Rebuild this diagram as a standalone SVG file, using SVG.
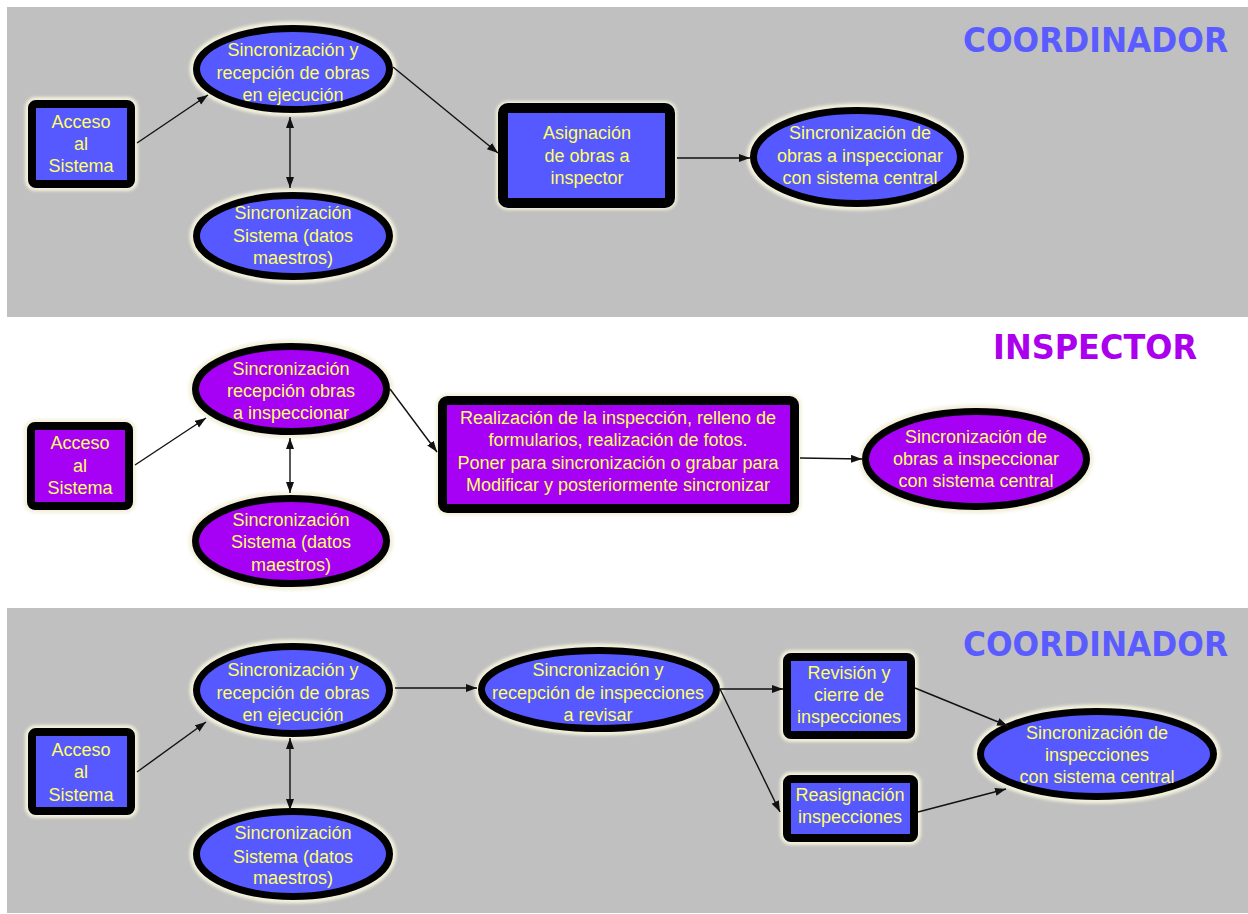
<svg xmlns="http://www.w3.org/2000/svg" width="1248" height="914" viewBox="0 0 1248 914">
<style>
.band{fill:#c0c0c0}
.halo{fill:none;stroke:#f3f1dc;stroke-width:14;filter:url(#blur)}
.rb{fill:#5659ff;stroke:#000;stroke-width:8}
.rp{fill:#a600f5;stroke:#000;stroke-width:8}
.eb{fill:#5659ff;stroke:#000;stroke-width:7}
.ep{fill:#a600f5;stroke:#000;stroke-width:7}
.t{font-family:"Liberation Sans",Arial,sans-serif;font-size:18px;fill:#ffff66;text-anchor:middle}
.title{font-family:"DejaVu Sans",Verdana,sans-serif;font-weight:bold;font-size:33px}
.c{fill:none;stroke:#111;stroke-width:1.4;marker-end:url(#ah)}
.d{fill:none;stroke:#111;stroke-width:1.4;marker-end:url(#ah);marker-start:url(#ah)}
</style>
<defs>
<filter id="blur" x="-20%" y="-20%" width="140%" height="140%"><feGaussianBlur stdDeviation="1.6"/></filter>
<marker id="ah" markerUnits="userSpaceOnUse" markerWidth="12" markerHeight="9" refX="11" refY="4" orient="auto-start-reverse"><path d="M0,0 L11,4 L0,8 z" fill="#111"/></marker>
</defs>
<rect width="1248" height="914" fill="#ffffff"/>
<rect class="band" x="7" y="7" width="1241" height="310"/>
<rect class="band" x="7" y="608" width="1241" height="305"/>

<text class="title" x="963" y="52" fill="#5a5cff" textLength="265" lengthAdjust="spacingAndGlyphs">COORDINADOR</text>
<text class="title" x="993" y="359" fill="#aa00ee" textLength="204" lengthAdjust="spacingAndGlyphs">INSPECTOR</text>
<text class="title" x="963" y="656" fill="#5a5cff" textLength="265" lengthAdjust="spacingAndGlyphs">COORDINADOR</text>

<!-- TOP -->
<g id="t_acceso">
<rect class="halo" x="32" y="104" width="99" height="80" rx="4"/>
<rect class="rb" x="32" y="104" width="99" height="80" rx="4"/>
<text class="t" x="81" y="128">Acceso</text><text class="t" x="81" y="150">al</text><text class="t" x="81" y="172">Sistema</text>
</g>
<g id="t_sync_obras">
<ellipse class="halo" cx="293" cy="69" rx="96.5" ry="40.5"/>
<ellipse class="eb" cx="293" cy="69" rx="96.5" ry="40.5"/>
<text class="t" x="293" y="56">Sincronización y</text><text class="t" x="293" y="78.5">recepción de obras</text><text class="t" x="293" y="101">en ejecución</text>
</g>
<g id="t_sync_maestros">
<ellipse class="halo" cx="293" cy="236" rx="96.5" ry="40.5"/>
<ellipse class="eb" cx="293" cy="236" rx="96.5" ry="40.5"/>
<text class="t" x="293" y="219">Sincronización</text><text class="t" x="293" y="242">Sistema (datos</text><text class="t" x="293" y="264">maestros)</text>
</g>
<g id="t_asignacion">
<rect class="halo" x="503" y="108" width="167" height="95" rx="5"/>
<rect class="rb" x="503" y="108" width="167" height="95" rx="5" style="stroke-width:10"/>
<text class="t" x="587" y="139">Asignación</text><text class="t" x="587" y="162">de obras a</text><text class="t" x="587" y="184">inspector</text>
</g>
<g id="t_sync_central">
<ellipse class="halo" cx="857" cy="157" rx="103.5" ry="46.5"/>
<ellipse class="eb" cx="857" cy="157" rx="103.5" ry="46.5"/>
<text class="t" x="860" y="139">Sincronización de</text><text class="t" x="860" y="162">obras a inspeccionar</text><text class="t" x="860" y="184">con sistema central</text>
</g>

<!-- MIDDLE -->
<g id="m_acceso">
<rect class="halo" x="31" y="426" width="98" height="80" rx="4"/>
<rect class="rp" x="31" y="426" width="98" height="80" rx="4"/>
<text class="t" x="80" y="449">Acceso</text><text class="t" x="80" y="472">al</text><text class="t" x="80" y="494">Sistema</text>
</g>
<g id="m_sync_obras">
<ellipse class="halo" cx="291" cy="389" rx="95.5" ry="42.5"/>
<ellipse class="ep" cx="291" cy="389" rx="95.5" ry="42.5"/>
<text class="t" x="291" y="375">Sincronización</text><text class="t" x="291" y="397">recepción obras</text><text class="t" x="291" y="419">a inspeccionar</text>
</g>
<g id="m_sync_maestros">
<ellipse class="halo" cx="291" cy="541" rx="95.5" ry="42.5"/>
<ellipse class="ep" cx="291" cy="541" rx="95.5" ry="42.5"/>
<text class="t" x="291" y="526">Sincronización</text><text class="t" x="291" y="548">Sistema (datos</text><text class="t" x="291" y="571">maestros)</text>
</g>
<g id="m_inspeccion">
<rect class="halo" x="442.5" y="400.5" width="352" height="108" rx="5"/>
<rect class="rp" x="442.5" y="400.5" width="352" height="108" rx="5" style="stroke-width:9"/>
<text class="t" x="618" y="424">Realización de la inspección, relleno de</text>
<text class="t" x="618" y="446">formularios, realización de fotos.</text>
<text class="t" x="618" y="469">Poner para sincronización o grabar para</text>
<text class="t" x="618" y="491">Modificar y posteriormente sincronizar</text>
</g>
<g id="m_sync_central">
<ellipse class="halo" cx="976" cy="459" rx="110.5" ry="47.5"/>
<ellipse class="ep" cx="976" cy="459" rx="110.5" ry="47.5"/>
<text class="t" x="976" y="443">Sincronización de</text><text class="t" x="976" y="465">obras a inspeccionar</text><text class="t" x="976" y="487">con sistema central</text>
</g>

<!-- BOTTOM -->
<g id="b_acceso">
<rect class="halo" x="32" y="732" width="99" height="79" rx="4"/>
<rect class="rb" x="32" y="732" width="99" height="79" rx="4"/>
<text class="t" x="81" y="756">Acceso</text><text class="t" x="81" y="778">al</text><text class="t" x="81" y="801">Sistema</text>
</g>
<g id="b_sync_obras">
<ellipse class="halo" cx="293" cy="690" rx="96.5" ry="43.5"/>
<ellipse class="eb" cx="293" cy="690" rx="96.5" ry="43.5"/>
<text class="t" x="293" y="676">Sincronización y</text><text class="t" x="293" y="699">recepción de obras</text><text class="t" x="293" y="721">en ejecución</text>
</g>
<g id="b_sync_maestros">
<ellipse class="halo" cx="293" cy="854" rx="96.5" ry="42.5"/>
<ellipse class="eb" cx="293" cy="854" rx="96.5" ry="42.5"/>
<text class="t" x="293" y="839">Sincronización</text><text class="t" x="293" y="863">Sistema (datos</text><text class="t" x="293" y="884">maestros)</text>
</g>
<g id="b_sync_inspecciones">
<ellipse class="halo" cx="599" cy="689.5" rx="117.5" ry="39"/>
<ellipse class="eb" cx="599" cy="689.5" rx="117.5" ry="39"/>
<text class="t" x="598" y="676">Sincronización y</text><text class="t" x="598" y="699">recepción de inspecciones</text><text class="t" x="598" y="721">a revisar</text>
</g>
<g id="b_revision">
<rect class="halo" x="787" y="657" width="124" height="78" rx="4"/>
<rect class="rb" x="787" y="657" width="124" height="78" rx="4"/>
<text class="t" x="849" y="679">Revisión y</text><text class="t" x="849" y="701">cierre de</text><text class="t" x="849" y="723">inspecciones</text>
</g>
<g id="b_reasignacion">
<rect class="halo" x="787" y="779" width="127" height="59" rx="4"/>
<rect class="rb" x="787" y="779" width="127" height="59" rx="4"/>
<text class="t" x="850" y="801">Reasignación</text><text class="t" x="850" y="823">inspecciones</text>
</g>
<g id="b_sync_central">
<ellipse class="halo" cx="1097" cy="754" rx="116.5" ry="42.5"/>
<ellipse class="eb" cx="1097" cy="754" rx="116.5" ry="42.5"/>
<text class="t" x="1097" y="739">Sincronización de</text><text class="t" x="1097" y="761">inspecciones</text><text class="t" x="1097" y="783">con sistema central</text>
</g>

<g id="connectors">
<line class="c" x1="137" y1="143" x2="208" y2="95"/>
<line class="d" x1="290" y1="117" x2="290" y2="188"/>
<line class="c" x1="393" y1="67" x2="498" y2="153"/>
<line class="c" x1="677" y1="158" x2="750" y2="158"/>
<line class="c" x1="135" y1="465" x2="206" y2="418"/>
<line class="d" x1="290" y1="438" x2="290" y2="493"/>
<line class="c" x1="390" y1="389" x2="437" y2="452"/>
<line class="c" x1="800" y1="458" x2="862" y2="459"/>
<line class="c" x1="137" y1="772" x2="206" y2="722"/>
<line class="d" x1="290" y1="738" x2="290" y2="810"/>
<line class="c" x1="395" y1="688" x2="477" y2="688"/>
<line class="c" x1="720" y1="689" x2="783" y2="689"/>
<line class="c" x1="720" y1="689" x2="780" y2="812"/>
<line class="c" x1="915" y1="688" x2="1008" y2="726"/>
<line class="c" x1="918" y1="812" x2="1006" y2="789"/>
</g>
</svg>
